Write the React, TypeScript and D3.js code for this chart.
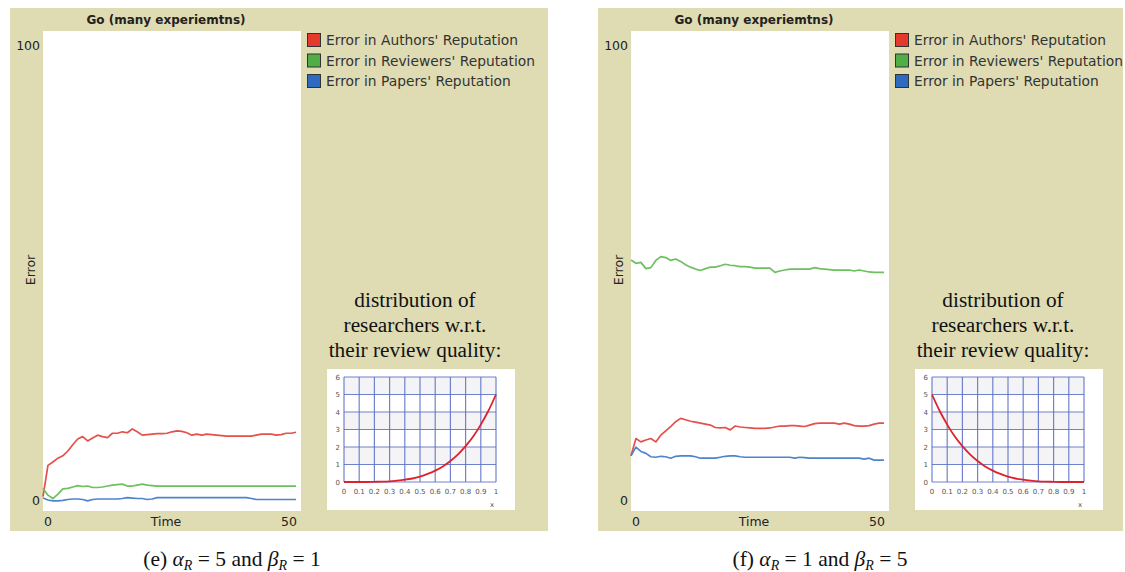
import React from 'react';
import * as d3 from 'd3';

// time steps of the NetLogo plot (ticks 0..51)
const timeSteps = d3.range(0, 52);

// (e) alpha_R = 5, beta_R = 1
const authorsE = [3, 9.5, 10.2, 11, 11.5, 12.5, 13.8, 15, 15.5, 14.6, 15.2, 15.8, 15.5, 15.3, 16.2, 16.2, 16.5, 16.3, 17.1, 16.5,
  15.8, 15.9, 16, 16.1, 16.1, 16.2, 16.5, 16.7, 16.6, 16.3, 15.8, 16, 15.8, 16, 15.9, 15.8, 15.7, 15.6, 15.6, 15.6,
  15.6, 15.6, 15.6, 15.8, 16, 16, 16, 15.8, 15.9, 16.2, 16.2, 16.4];
const reviewersE = [4.7, 3.3, 2.6, 3.5, 4.6, 4.7, 5.0, 5.3, 5.1, 5.2, 4.9, 4.9, 5.0, 5.2, 5.4, 5.5, 5.6, 5.2, 5.2, 5.4,
  5.6, 5.4, 5.3, 5.2, 5.2, 5.2, 5.2, 5.2, 5.2, 5.2, 5.2, 5.2, 5.2, 5.2, 5.2, 5.2, 5.2, 5.2, 5.2, 5.2,
  5.2, 5.2, 5.2, 5.2, 5.2, 5.2, 5.2, 5.2, 5.2, 5.2, 5.2, 5.2];
const papersE = [2.7, 2.3, 2.1, 2.1, 2.2, 2.4, 2.5, 2.5, 2.4, 2.1, 2.4, 2.5, 2.5, 2.5, 2.5, 2.5, 2.6, 2.8, 2.7, 2.6,
  2.6, 2.4, 2.5, 2.8, 2.8, 2.8, 2.8, 2.8, 2.8, 2.8, 2.8, 2.8, 2.8, 2.8, 2.8, 2.8, 2.8, 2.8, 2.8, 2.8,
  2.8, 2.8, 2.6, 2.4, 2.4, 2.4, 2.4, 2.4, 2.4, 2.4, 2.4, 2.4];

// (f) alpha_R = 1, beta_R = 5
const authorsF = [11.5, 15.1, 14.4, 14.8, 15.1, 14.4, 15.8, 16.7, 17.6, 18.6, 19.3, 19.0, 18.7, 18.5, 18.3, 18.1, 17.9, 17.4, 17.3, 17.4,
  16.9, 17.7, 17.5, 17.4, 17.3, 17.2, 17.2, 17.2, 17.3, 17.5, 17.7, 17.7, 17.8, 17.8, 17.7, 17.6, 17.9, 18.2, 18.3, 18.3,
  18.3, 18.3, 18.1, 18.3, 18.1, 17.8, 17.7, 17.7, 17.8, 18.1, 18.3, 18.3];
const reviewersF = [52.3, 51.6, 51.8, 50.5, 50.7, 52.2, 53, 52.8, 52.2, 52.5, 52, 51.3, 50.8, 50.4, 50.1, 50.5, 50.8, 50.8, 51.1, 51.4,
  51.2, 51.1, 50.9, 50.9, 50.8, 50.6, 50.6, 50.6, 50.6, 49.7, 50.0, 50.2, 50.4, 50.4, 50.4, 50.4, 50.4, 50.7, 50.5, 50.4,
  50.3, 50.2, 50.2, 50.2, 50.2, 50.0, 50.2, 50.0, 49.8, 49.7, 49.7, 49.7];
const papersF = [11.5, 13.3, 12.4, 12.0, 11.3, 11.2, 11.4, 11.3, 11.0, 11.4, 11.5, 11.5, 11.5, 11.3, 11.0, 11.0, 11.0, 11.0, 11.2, 11.4,
  11.5, 11.5, 11.3, 11.2, 11.2, 11.2, 11.2, 11.2, 11.2, 11.2, 11.2, 11.2, 11.2, 11.0, 11.2, 11.1, 11.0, 11.0, 11.0, 11.0,
  11.0, 11.0, 11.0, 11.0, 11.0, 11.0, 11.0, 10.8, 11.0, 10.6, 10.6, 10.6];

// review quality density curves in the insets
const qualityX = [0, 0.05, 0.1, 0.15, 0.2, 0.25, 0.3, 0.35, 0.4, 0.45, 0.5, 0.55, 0.6, 0.65, 0.7, 0.75, 0.8, 0.85, 0.9, 0.95, 1];
const densityRising = [0, 0, 0, 0, 0.01, 0.02, 0.04, 0.08, 0.13, 0.2, 0.31, 0.46, 0.65, 0.89, 1.2, 1.58, 2.05, 2.6, 3.28, 4.07, 5];
const densityFalling = [5, 4.07, 3.28, 2.6, 2.05, 1.58, 1.2, 0.89, 0.65, 0.46, 0.31, 0.2, 0.13, 0.08, 0.04, 0.02, 0.01, 0, 0, 0, 0];

const seriesNames = ["Error in Authors' Reputation", "Error in Reviewers' Reputation", "Error in Papers' Reputation"];
const swatchColors = ['#e4392b', '#4fae45', '#2e6ac0'];
const lineColors = ['#e5504b', '#6dbf60', '#4f84cc'];
const yTickLabels = [0, 100];
const xTickLabels = [0, 50];
const insetYTicks = [0, 1, 2, 3, 4, 5, 6];
const insetXTicks = [0, 0.1, 0.2, 0.3, 0.4, 0.5, 0.6, 0.7, 0.8, 0.9, 1];
const distText = ['distribution of', 'researchers w.r.t.', 'their review quality:'];

const TAN = '#dfdbb3';
const SANS = '"DejaVu Sans", sans-serif';
const SERIF = '"Liberation Serif", "Times New Roman", serif';

type PanelProps = {
  x0: number;
  w: number;
  series: number[][];
  density: number[];
  label: string;
  alpha: number;
  beta: number;
};

const Panel = ({ x0, w, series, density, label, alpha, beta }: PanelProps) => {
  const x = d3.scaleLinear().domain([0, 52]).range([x0 + 33, x0 + 291]);
  const y = d3.scaleLinear().domain([0, 100]).range([511, 31]);
  const line = d3.line<number>().x((_, i) => x(timeSteps[i])).y(d => y(d));

  // inset
  const ix = d3.scaleLinear().domain([0, 1]).range([x0 + 334, x0 + 486]);
  const iy = d3.scaleLinear().domain([0, 6]).range([482, 377]);
  const curve = d3.line<number>().x((_, i) => ix(qualityX[i])).y(d => iy(d)).curve(d3.curveMonotoneX);

  const capX = x0 + 222;

  return (
    <g>
      <rect x={x0} y={8} width={w} height={523} fill={TAN} />
      <text x={x0 + 156} y={24} textAnchor="middle" fontFamily={SANS} fontWeight="bold" fontSize={12} fill="#222">
        Go (many experiemtns)
      </text>
      <rect x={x(0)} y={31} width={x(52) - x(0)} height={480} fill="#fff" />
      {yTickLabels.map(t => (
        <text key={t} x={x0 + 30} y={t === 0 ? 505 : 50} textAnchor="end" fontFamily={SANS} fontSize={12.5} fill="#222">
          {t}
        </text>
      ))}
      <text transform={`translate(${x0 + 25},270) rotate(-90)`} textAnchor="middle" fontFamily={SANS} fontSize={12.5} fill="#222">
        Error
      </text>
      {xTickLabels.map(t => (
        <text key={t} x={t === 0 ? x(t) + 5 : x(t) - 2} y={526} textAnchor="middle" fontFamily={SANS} fontSize={12.5} fill="#222">
          {t}
        </text>
      ))}
      <text x={x0 + 156} y={526} textAnchor="middle" fontFamily={SANS} fontSize={12.5} fill="#222">Time</text>

      {series.map((s, k) => (
        <path key={k} d={line(s) || ''} fill="none" stroke={lineColors[k]} strokeWidth={1.7} strokeLinejoin="round" />
      ))}

      {seriesNames.map((name, k) => (
        <g key={name} transform={`translate(${x0 + 297},${33 + k * 20.5})`}>
          <rect x={0.5} y={0.5} width={13} height={13} fill={swatchColors[k]} stroke="#333" strokeWidth={1} />
          <text x={19} y={12} fontFamily={SANS} fontSize={13.8} fill="#333">{name}</text>
        </g>
      ))}

      {distText.map((t, k) => (
        <text key={t} x={x0 + 405} y={307 + k * 25} textAnchor="middle" fontFamily={SERIF} fontSize={21.3} fill="#111">
          {t}
        </text>
      ))}

      <rect x={x0 + 317} y={369} width={188} height={141} fill="#fff" />
      {[1, 3, 5].map(r => (
        <rect key={r} x={ix(0)} y={iy(r + 1)} width={ix(1) - ix(0)} height={iy(r) - iy(r + 1)} fill="#f4f4f7" />
      ))}
      {insetXTicks.map(t => (
        <line key={t} x1={ix(t)} x2={ix(t)} y1={iy(0)} y2={iy(6)} stroke="#5a6ec6" strokeWidth={1.2} opacity={0.85} />
      ))}
      {insetYTicks.map(t => (
        <line key={t} x1={ix(0)} x2={ix(1)} y1={iy(t)} y2={iy(t)} stroke="#5a6ec6" strokeWidth={1.2} opacity={0.85} />
      ))}
      {insetYTicks.map(t => (
        <text key={t} x={ix(0) - 4} y={iy(t) + 2.5} textAnchor="end" fontFamily={SANS} fontSize={7} fill="#555">{t}</text>
      ))}
      {insetXTicks.map(t => (
        <text key={t} x={ix(t)} y={494} textAnchor="middle" fontFamily={SANS} fontSize={7} fill="#555">{t}</text>
      ))}
      <text x={ix(1) - 4} y={507} textAnchor="middle" fontFamily={SANS} fontSize={7} fill="#555">x</text>
      <path d={curve(density) || ''} fill="none" stroke="#e0202c" strokeWidth={1.8} />

      <text x={capX} y={566} textAnchor="middle" fontFamily={SERIF} fontSize={21.5} fill="#111">
        <tspan>{label} </tspan>
        <tspan fontStyle="italic">α</tspan>
        <tspan fontStyle="italic" fontSize={14} dy={4}>R</tspan>
        <tspan dy={-4}>{` = ${alpha} and `}</tspan>
        <tspan fontStyle="italic">β</tspan>
        <tspan fontStyle="italic" fontSize={14} dy={4}>R</tspan>
        <tspan dy={-4}>{` = ${beta}`}</tspan>
      </text>
    </g>
  );
};

export default function App() {
  return (
    <div style={{ position: 'absolute', left: 0, top: 0 }}>
      <svg width={1125} height={572} style={{ display: 'block', background: '#fff' }}>
        <Panel x0={10} w={538} series={[authorsE, reviewersE, papersE]} density={densityRising} label="(e)" alpha={5} beta={1} />
        <Panel x0={598} w={525} series={[authorsF, reviewersF, papersF]} density={densityFalling} label="(f)" alpha={1} beta={5} />
      </svg>
    </div>
  );
}
